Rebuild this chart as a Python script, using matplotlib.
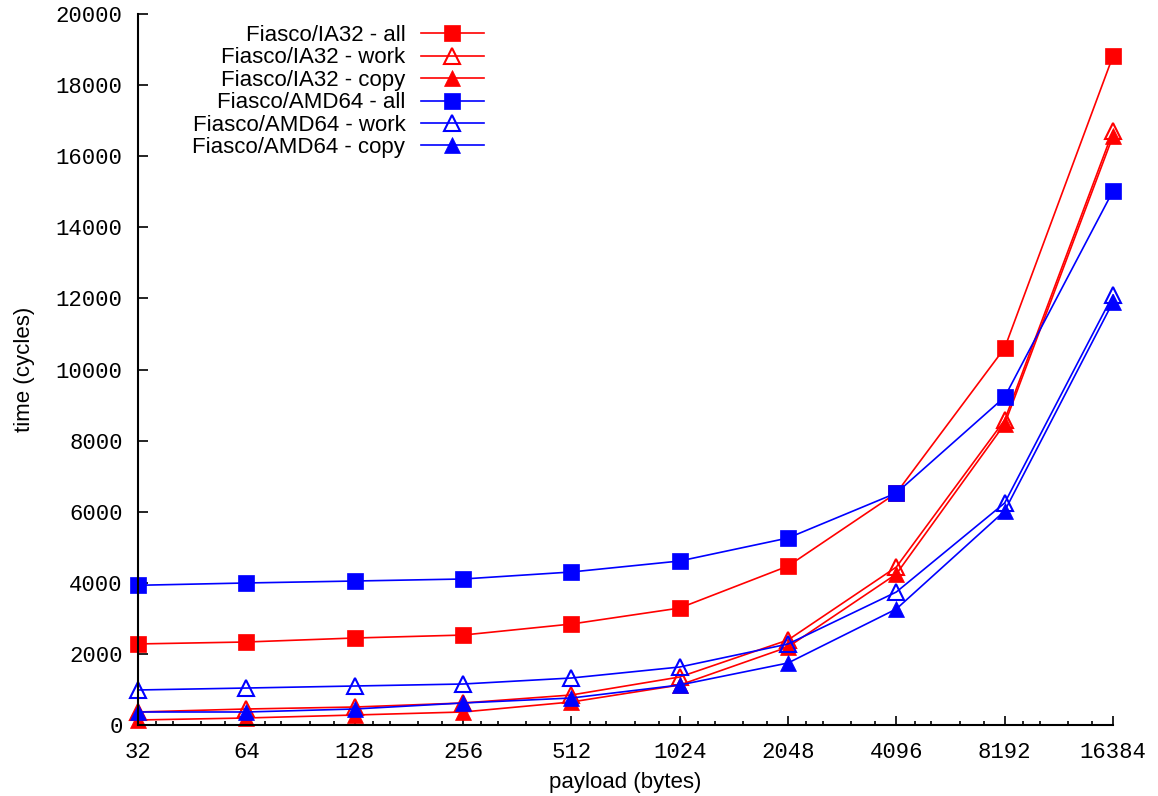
import numpy as np
import matplotlib
matplotlib.use("Agg")
import matplotlib.pyplot as plt
from matplotlib.ticker import FixedLocator, FixedFormatter, NullFormatter

# ===== data =====
payload = [32, 64, 128, 256, 512, 1024, 2048, 4096, 8192, 16384]
payload_labels = [str(p) for p in payload]

ia32_all = [2280, 2335, 2447, 2530, 2840, 3290, 4470, 6525, 10605, 18819]
ia32_work = [366, 450, 506, 619, 844, 1350, 2391, 4444, 8579, 16709]
ia32_copy = [141, 197, 281, 366, 647, 1125, 2194, 4247, 8466, 16568]
amd64_all = [3930, 3995, 4050, 4107, 4304, 4613, 5260, 6525, 9226, 15021]
amd64_work = [985, 1040, 1097, 1153, 1322, 1631, 2278, 3741, 6245, 12096]
amd64_copy = [366, 366, 450, 619, 759, 1125, 1744, 3263, 6020, 11898]

y_ticks = list(range(0, 20001, 2000))

# ===== fonts =====
plt.rcParams['font.family'] = ['Liberation Sans', 'DejaVu Sans']
plt.rcParams['font.size'] = 16
mono = 'Liberation Mono'

fig = plt.figure(figsize=(11.58, 7.96), dpi=100)
ax = fig.add_axes([138/1158, 1 - 725/796, (1113 - 138)/1158, (725 - 14)/796])

RED = '#ff0000'
BLUE = '#0000ff'
lw = 1.2
ms = 11.5

series = [
    ("Fiasco/IA32 - all", ia32_all, RED, 's', True),
    ("Fiasco/IA32 - work", ia32_work, RED, '^', False),
    ("Fiasco/IA32 - copy", ia32_copy, RED, '^', True),
    ("Fiasco/AMD64 - all", amd64_all, BLUE, 's', True),
    ("Fiasco/AMD64 - work", amd64_work, BLUE, '^', False),
    ("Fiasco/AMD64 - copy", amd64_copy, BLUE, '^', True),
]

for label, vals, col, mk, filled in series:
    ax.plot(payload, vals, color=col, lw=lw, marker=mk, ms=ms,
            markerfacecolor=col if filled else 'none',
            markeredgecolor=col, markeredgewidth=1.5 if not filled else 0.5,
            label=label, clip_on=False)

ax.set_xscale('log', base=2)
ax.set_xlim(32, 16384)
ax.set_ylim(0, 20000)

# x ticks
ax.xaxis.set_major_locator(FixedLocator(payload))
ax.xaxis.set_major_formatter(FixedFormatter(payload_labels))
minor = []
for p in payload[:-1]:
    for f in (1.125, 1.25, 1.5, 1.75):
        minor.append(p * f)
ax.xaxis.set_minor_locator(FixedLocator(minor))
ax.xaxis.set_minor_formatter(NullFormatter())

ax.set_yticks(y_ticks)

ax.tick_params(axis='x', which='major', direction='in', length=6.5, width=1.2, pad=12)
ax.tick_params(axis='x', which='minor', direction='in', length=3, width=1.2)
ax.tick_params(axis='y', which='major', direction='in', length=7.2, width=1.2, pad=11)
ax.tick_params(axis='y', which='minor', left=False)

for lab in ax.get_xticklabels() + ax.get_yticklabels():
    lab.set_fontfamily(mono)
    lab.set_fontsize(16)

for s in ('top', 'right'):
    ax.spines[s].set_visible(False)
for s in ('left', 'bottom'):
    ax.spines[s].set_linewidth(1.5)

ax.set_xlabel("payload (bytes)", labelpad=7)
ax.set_ylabel("time (cycles)", labelpad=15)

leg = ax.legend(loc='upper right', bbox_to_anchor=(484/1158, 1 - 25/796),
                bbox_transform=fig.transFigure, frameon=False,
                markerfirst=False, handlelength=2.84, handletextpad=0.7,
                labelspacing=0.065, borderpad=0, borderaxespad=0)

fig.savefig("out.png", dpi=100)
